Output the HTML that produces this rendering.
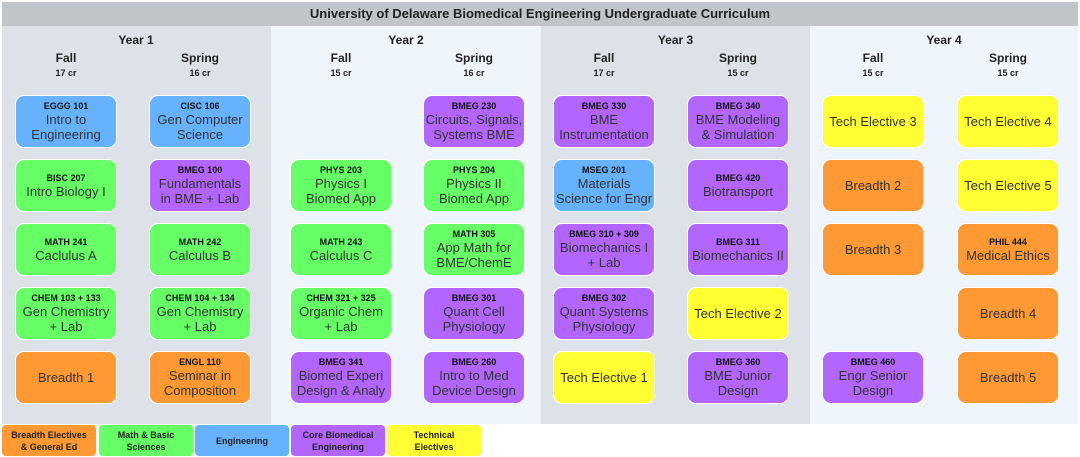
<!DOCTYPE html><html><head><style>
body{margin:0;width:1080px;height:457px;background:#fff;font-family:"Liberation Sans",Arial,sans-serif;position:relative;overflow:hidden;color:#222}
.a{position:absolute}
.t{left:2px;top:2px;width:1076px;height:24px;background:#c1c5ca;font-weight:bold;font-size:13px;text-align:center;line-height:24px}
.y{top:26px;height:398px;width:270px}
.h{position:absolute;text-align:center;font-weight:bold}
.b{position:absolute;width:102px;height:53px;border-radius:9px;border:1px solid #fff;box-sizing:border-box;display:flex;flex-direction:column;justify-content:center;align-items:center;text-align:center;font-size:13px;line-height:15px;color:#333}
.b i{font-style:normal;font-weight:bold;font-size:9px;line-height:11px;color:#111}
.B{background:#66b2ff}.G{background:#66ff66}.P{background:#b266ff}.O{background:#ff9933}.Y{background:#ffff33}
.l{position:absolute;top:425px;height:31px;width:94px;border-radius:4px;font-size:9px;font-weight:bold;display:flex;align-items:center;justify-content:center;text-align:center;line-height:12px;color:#222}
</style></head><body>
<div class="a t">University of Delaware Biomedical Engineering Undergraduate Curriculum</div>
<div class="a y" style="left:2px;background:#dce2e8"></div>
<div class="a y" style="left:271px;background:#eef5fd"></div>
<div class="a y" style="left:541px;background:#dce2e8"></div>
<div class="a y" style="left:810px;width:268px;background:#eef5fd"></div>
<div class="h" style="left:2px;width:268px;top:33px;font-size:12px">Year 1</div>
<div class="h" style="left:271px;width:270px;top:33px;font-size:12px">Year 2</div>
<div class="h" style="left:541px;width:269px;top:33px;font-size:12px">Year 3</div>
<div class="h" style="left:810px;width:268px;top:33px;font-size:12px">Year 4</div>
<div class="h" style="left:16px;width:100px;top:51px;font-size:12px">Fall<br><span style="font-size:9px">17 cr</span></div>
<div class="h" style="left:150px;width:100px;top:51px;font-size:12px">Spring<br><span style="font-size:9px">16 cr</span></div>
<div class="h" style="left:291px;width:100px;top:51px;font-size:12px">Fall<br><span style="font-size:9px">15 cr</span></div>
<div class="h" style="left:424px;width:100px;top:51px;font-size:12px">Spring<br><span style="font-size:9px">16 cr</span></div>
<div class="h" style="left:554px;width:100px;top:51px;font-size:12px">Fall<br><span style="font-size:9px">17 cr</span></div>
<div class="h" style="left:688px;width:100px;top:51px;font-size:12px">Spring<br><span style="font-size:9px">15 cr</span></div>
<div class="h" style="left:823px;width:100px;top:51px;font-size:12px">Fall<br><span style="font-size:9px">15 cr</span></div>
<div class="h" style="left:958px;width:100px;top:51px;font-size:12px">Spring<br><span style="font-size:9px">15 cr</span></div>

<div class="b B" style="left:15px;top:95px"><i>EGGG 101</i>Intro to<br>Engineering</div>
<div class="b B" style="left:149px;top:95px"><i>CISC 106</i>Gen Computer<br>Science</div>
<div class="b P" style="left:423px;top:95px"><i>BMEG 230</i>Circuits, Signals,<br>Systems BME</div>
<div class="b P" style="left:553px;top:95px"><i>BMEG 330</i>BME<br>Instrumentation</div>
<div class="b P" style="left:687px;top:95px"><i>BMEG 340</i>BME Modeling<br>&amp; Simulation</div>
<div class="b Y" style="left:822px;top:95px">Tech Elective 3</div>
<div class="b Y" style="left:957px;top:95px">Tech Elective 4</div>

<div class="b G" style="left:15px;top:159px"><i>BISC 207</i>Intro Biology I</div>
<div class="b P" style="left:149px;top:159px"><i>BMEG 100</i>Fundamentals<br>in BME + Lab</div>
<div class="b G" style="left:290px;top:159px"><i>PHYS 203</i>Physics I<br>Biomed App</div>
<div class="b G" style="left:423px;top:159px"><i>PHYS 204</i>Physics II<br>Biomed App</div>
<div class="b B" style="left:553px;top:159px"><i>MSEG 201</i>Materials<br>Science for Engr</div>
<div class="b P" style="left:687px;top:159px"><i>BMEG 420</i>Biotransport</div>
<div class="b O" style="left:822px;top:159px">Breadth 2</div>
<div class="b Y" style="left:957px;top:159px">Tech Elective 5</div>

<div class="b G" style="left:15px;top:223px"><i>MATH 241</i>Caclulus A</div>
<div class="b G" style="left:149px;top:223px"><i>MATH 242</i>Calculus B</div>
<div class="b G" style="left:290px;top:223px"><i>MATH 243</i>Calculus C</div>
<div class="b G" style="left:423px;top:223px"><i>MATH 305</i>App Math for<br>BME/ChemE</div>
<div class="b P" style="left:553px;top:223px"><i>BMEG 310 + 309</i>Biomechanics I<br>+ Lab</div>
<div class="b P" style="left:687px;top:223px"><i>BMEG 311</i>Biomechanics II</div>
<div class="b O" style="left:822px;top:223px">Breadth 3</div>
<div class="b O" style="left:957px;top:223px"><i>PHIL 444</i>Medical Ethics</div>

<div class="b G" style="left:15px;top:287px"><i>CHEM 103 + 133</i>Gen Chemistry<br>+ Lab</div>
<div class="b G" style="left:149px;top:287px"><i>CHEM 104 + 134</i>Gen Chemistry<br>+ Lab</div>
<div class="b G" style="left:290px;top:287px"><i>CHEM 321 + 325</i>Organic Chem<br>+ Lab</div>
<div class="b P" style="left:423px;top:287px"><i>BMEG 301</i>Quant Cell<br>Physiology</div>
<div class="b P" style="left:553px;top:287px"><i>BMEG 302</i>Quant Systems<br>Physiology</div>
<div class="b Y" style="left:687px;top:287px">Tech Elective 2</div>
<div class="b O" style="left:957px;top:287px">Breadth 4</div>

<div class="b O" style="left:15px;top:351px">Breadth 1</div>
<div class="b O" style="left:149px;top:351px"><i>ENGL 110</i>Seminar in<br>Composition</div>
<div class="b P" style="left:290px;top:351px"><i>BMEG 341</i>Biomed Experi<br>Design &amp; Analy</div>
<div class="b P" style="left:423px;top:351px"><i>BMEG 260</i>Intro to Med<br>Device Design</div>
<div class="b Y" style="left:553px;top:351px">Tech Elective 1</div>
<div class="b P" style="left:687px;top:351px"><i>BMEG 360</i>BME Junior<br>Design</div>
<div class="b P" style="left:822px;top:351px"><i>BMEG 460</i>Engr Senior<br>Design</div>
<div class="b O" style="left:957px;top:351px">Breadth 5</div>

<div class="l O" style="left:2px">Breadth Electives<br>&amp; General Ed</div>
<div class="l G" style="left:99px">Math &amp; Basic<br>Sciences</div>
<div class="l B" style="left:195px">Engineering</div>
<div class="l P" style="left:291px">Core Biomedical<br>Engineering</div>
<div class="l Y" style="left:387px">Technical<br>Electives</div>
</body></html>
